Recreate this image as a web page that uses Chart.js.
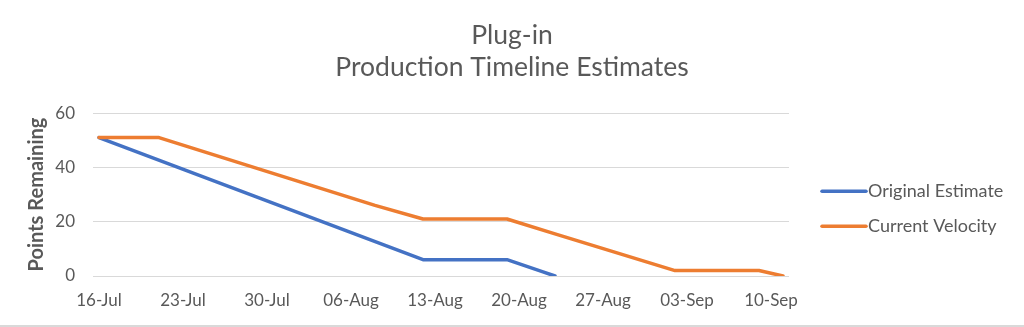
<!DOCTYPE html>
<html>
<head>
<meta charset="utf-8">
<script src="https://cdn.jsdelivr.net/npm/chart.js@4"></script>
<style>
  body { margin: 0; background: #fff; }
  .chart_box { width: 1024px; height: 325px; border-bottom: 2px solid #d9d9d9; }
</style>
</head>
<body>
<div class="chart_box"><canvas id="chart"></canvas></div>
<script>
// axis labels, one per week
const tickLabels = ["16-Jul", "23-Jul", "30-Jul", "06-Aug", "13-Aug", "20-Aug", "27-Aug", "03-Sep", "10-Sep"];

// original estimate (dates where the line bends)
const originalDates = ["16-Jul", "12-Aug", "19-Aug", "22-Aug", "23-Aug"];
const originalPoints = [51, 6, 6, 1.5, 0];

// current velocity
const velocityDates = ["16-Jul", "21-Jul", "08-Aug", "12-Aug", "19-Aug", "23-Aug", "02-Sep", "09-Sep", "11-Sep"];
const velocityPoints = [51, 51, 26, 21, 21, 15.5, 2, 2, 0];

const seriesNames = ["Original Estimate", "Current Velocity"];
const seriesColors = ["#4472C4", "#ED7D31"];

const textColor = "#595959";
const gridColor = "#d9d9d9";

const monthIndex = { Jul: 6, Aug: 7, Sep: 8 };

// turns "16-Jul" into the number of days after the first tick
function dayNumber(label) {
  const [d, m] = label.split("-");
  const [d0, m0] = tickLabels[0].split("-");
  return (Date.UTC(2018, monthIndex[m], +d) - Date.UTC(2018, monthIndex[m0], +d0)) / 86400000;
}

function toPoints(dates, values) {
  return dates.map((d, i) => ({ x: dayNumber(d), y: values[i] }));
}

const lastDay = dayNumber(tickLabels[tickLabels.length - 1]);

// draws the legend to the right of the plot
const sideLegend = {
  id: "sideLegend",
  afterDraw(chart) {
    const ctx = chart.ctx;
    const area = chart.chartArea;
    ctx.save();
    ctx.font = "18px Lato";
    ctx.textBaseline = "middle";
    chart.data.datasets.forEach((ds, i) => {
      const x = area.right + 33;
      const y = area.top + 78 + i * 35;
      ctx.strokeStyle = ds.borderColor;
      ctx.lineWidth = 3.5;
      ctx.lineCap = "round";
      ctx.beginPath();
      ctx.moveTo(x, y);
      ctx.lineTo(x + 44, y);
      ctx.stroke();
      ctx.fillStyle = textColor;
      ctx.fillText(ds.label, x + 46, y);
    });
    ctx.restore();
  },
};

Chart.defaults.font.family = "Lato";
Chart.defaults.color = textColor;

const chart = new Chart(document.querySelector("#chart"), {
  type: "line",
  data: {
    datasets: [
      {
        label: seriesNames[0],
        data: toPoints(originalDates, originalPoints),
        borderColor: seriesColors[0],
        backgroundColor: seriesColors[0],
        order: 1,
      },
      {
        label: seriesNames[1],
        data: toPoints(velocityDates, velocityPoints),
        borderColor: seriesColors[1],
        backgroundColor: seriesColors[1],
        order: 0,
      },
    ],
  },
  options: {
    responsive: true,
    maintainAspectRatio: false,
    animation: false,
    layout: { padding: { left: 0, right: 0, top: 0, bottom: 0 } },
    elements: {
      point: { radius: 0, hoverRadius: 0 },
      line: { borderWidth: 3.5, tension: 0, borderJoinStyle: "round", borderCapStyle: "round" },
    },
    scales: {
      x: {
        type: "linear",
        min: -0.5,
        max: lastDay + 1.5,
        grid: { display: false, drawTicks: false },
        border: { display: false },
        afterBuildTicks: (scale) => {
          scale.ticks = tickLabels.map((t) => ({ value: dayNumber(t) }));
        },
        ticks: {
          color: textColor,
          font: { size: 17 },
          padding: 14.3,
          maxRotation: 0,
          autoSkip: false,
          callback: (value) => tickLabels.find((t) => dayNumber(t) === value),
        },
      },
      y: {
        min: 0,
        max: 60,
        afterFit: (scale) => {
          scale.width = 93;
        },
        grid: { color: gridColor, lineWidth: 1, drawTicks: false },
        border: { display: false },
        ticks: { stepSize: 20, color: textColor, font: { size: 17 }, padding: 18 },
        title: {
          display: true,
          text: "Points Remaining",
          color: textColor,
          font: { size: 20, weight: "bold" },
          padding: { top: 25, bottom: 0 },
        },
      },
      // empty axis that keeps room for the legend on the right
      side: {
        position: "right",
        display: true,
        grid: { display: false },
        border: { display: false },
        ticks: { display: false },
        afterFit: (scale) => {
          scale.width = 235;
        },
      },
    },
    plugins: {
      legend: { display: false },
      tooltip: { enabled: false },
      title: {
        display: true,
        text: ["Plug-in", "Production Timeline Estimates"],
        color: textColor,
        font: { size: 26.5, weight: "normal", lineHeight: 1.21 },
        padding: { top: 19, bottom: 30 },
      },
    },
  },
  plugins: [sideLegend],
});
</script>
</body>
</html>
